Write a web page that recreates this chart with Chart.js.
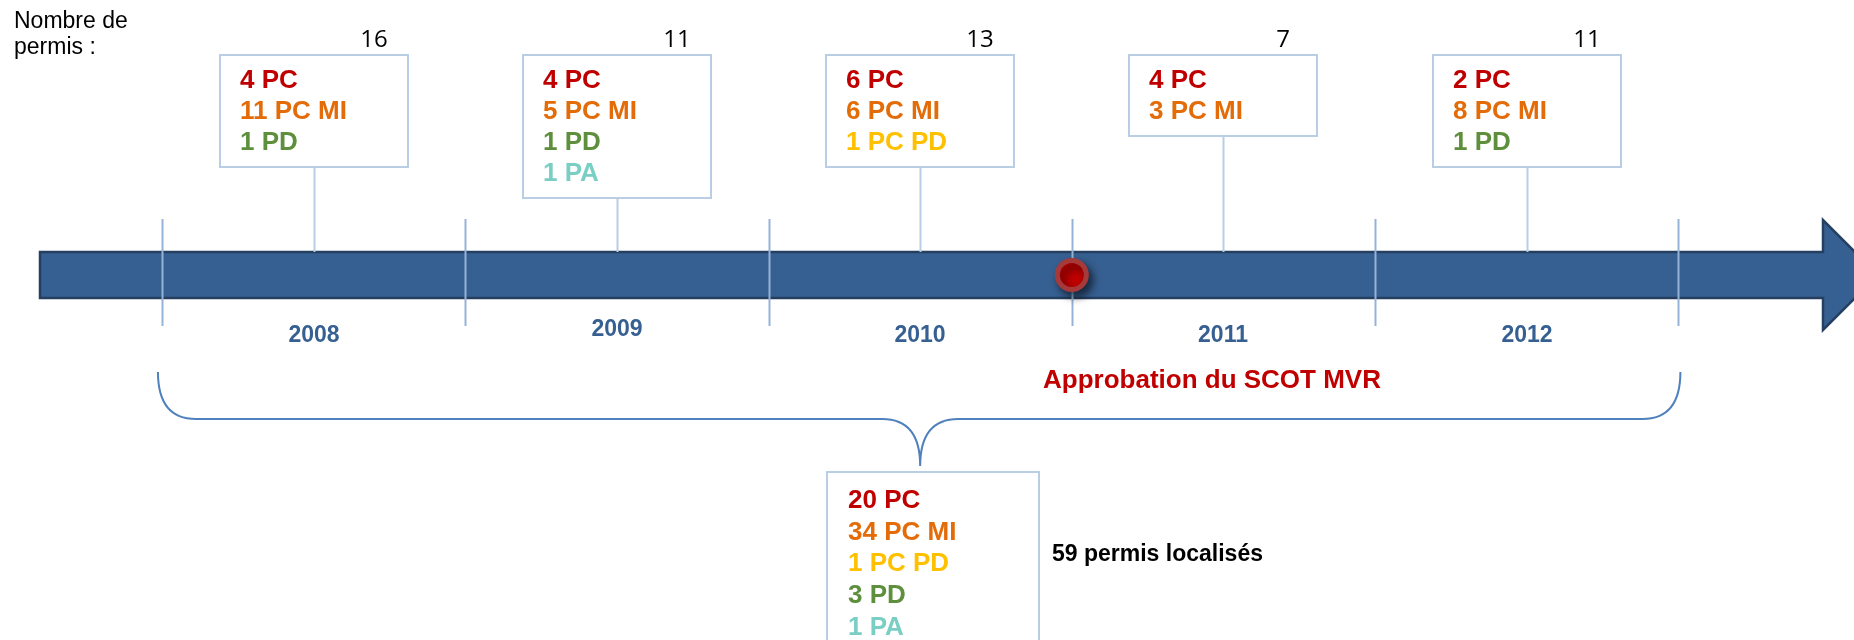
<!DOCTYPE html>
<html>
<head>
<meta charset="utf-8">
<script src="https://cdn.jsdelivr.net/npm/chart.js@4.4.1/dist/chart.umd.min.js"></script>
<style>
  html, body { margin: 0; padding: 0; background: #fff; }
  #timeline { display: block; }
</style>
</head>
<body>
<canvas id="timeline" width="1854" height="640"></canvas>
<script>
// permits per year
const years = [2008, 2009, 2010, 2011, 2012];
const yearTotals = [16, 11, 13, 7, 11];
const permitTypes = ['PC', 'PC MI', 'PC PD', 'PD', 'PA'];
const pcCounts = [4, 4, 6, 4, 2];
const pcMiCounts = [11, 5, 6, 3, 8];
const pcPdCounts = [0, 0, 1, 0, 0];
const pdCounts = [1, 1, 0, 0, 1];
const paCounts = [0, 1, 0, 0, 0];

// totals as printed in the summary box (not recomputed)
const summaryCounts = [20, 34, 1, 3, 1];
const summaryTotal = 59;

const approvalDate = 2011;
const approvalLabel = 'Approbation du SCOT MVR';

const typeColors = ['#C00000', '#E36C09', '#FFC000', '#5E8F3C', '#7ACFC4'];

// layout (pixels)
const AXIS_TOP = 252, AXIS_BOTTOM = 298, AXIS_Y = 275;
const BOX_TOP = 55, BOX_W = 188, LINE_H = 31;
const FONT = '"Liberation Sans", Arial, sans-serif';

function boxLines(i) {
    const perType = [pcCounts, pcMiCounts, pcPdCounts, pdCounts, paCounts];
    const out = [];
    perType.forEach((arr, t) => {
        if (arr[i] > 0) out.push({ text: arr[i] + ' ' + permitTypes[t], color: typeColors[t] });
    });
    return out;
}

const timelinePlugin = {
    id: 'timeline',
    beforeDatasetsDraw(chart) {
        const ctx = chart.ctx;
        const xs = chart.scales.x;
        ctx.save();

        // big arrow
        ctx.beginPath();
        ctx.moveTo(40, AXIS_TOP);
        ctx.lineTo(1823, AXIS_TOP);
        ctx.lineTo(1823, 220);
        ctx.lineTo(1878, AXIS_Y);
        ctx.lineTo(1823, 330);
        ctx.lineTo(1823, AXIS_BOTTOM);
        ctx.lineTo(40, AXIS_BOTTOM);
        ctx.closePath();
        ctx.fillStyle = '#376092';
        ctx.fill();
        ctx.lineWidth = 2.5;
        ctx.strokeStyle = '#243F60';
        ctx.stroke();

        // year dividers
        ctx.strokeStyle = '#95B3D7';
        ctx.lineWidth = 2;
        years.concat([years[years.length - 1] + 1]).forEach(y => {
            const x = Math.round(xs.getPixelForValue(y)) + 0.5;
            ctx.beginPath();
            ctx.moveTo(x, 219);
            ctx.lineTo(x, 326);
            ctx.stroke();
        });

        // boxes, connectors, counts
        years.forEach((y, i) => {
            const cx = Math.round(xs.getPixelForValue(y + 0.5));
            const lines = boxLines(i);
            const h = 19 + LINE_H * lines.length;
            const left = cx - BOX_W / 2;

            ctx.strokeStyle = '#B9CDE5';
            ctx.lineWidth = 2;
            ctx.beginPath();
            ctx.moveTo(cx + 0.5, BOX_TOP + h);
            ctx.lineTo(cx + 0.5, AXIS_TOP);
            ctx.stroke();
            ctx.strokeRect(left, BOX_TOP, BOX_W, h);

            ctx.font = 'bold 26px ' + FONT;
            ctx.textAlign = 'left';
            ctx.textBaseline = 'middle';
            lines.forEach((l, k) => {
                ctx.fillStyle = l.color;
                ctx.fillText(l.text, left + 20, BOX_TOP + 26 + k * LINE_H);
            });

            ctx.font = '24px "Open Sans", sans-serif';
            ctx.fillStyle = '#000';
            ctx.textAlign = 'center';
            ctx.fillText(String(yearTotals[i]), cx + 60, 40);

            ctx.font = 'bold 23px ' + FONT;
            ctx.fillStyle = '#376092';
            ctx.fillText(String(y), cx, i === 1 ? 330 : 336);
        });

        // y-axis caption
        ctx.font = '23px ' + FONT;
        ctx.fillStyle = '#000';
        ctx.textAlign = 'left';
        ctx.fillText('Nombre de', 14, 22);
        ctx.fillText('permis :', 14, 48);

        // approval label
        ctx.font = 'bold 26px ' + FONT;
        ctx.fillStyle = '#C00000';
        ctx.fillText(approvalLabel, Math.round(xs.getPixelForValue(approvalDate)) - 29, 381);

        // brace over the whole period
        const L = xs.getPixelForValue(years[0]) - 4;
        const R = xs.getPixelForValue(years[years.length - 1] + 1) + 2;
        const M = (L + R) / 2 + 1;
        ctx.strokeStyle = '#4F81BD';
        ctx.lineWidth = 2;
        ctx.beginPath();
        ctx.moveTo(L, 372);
        ctx.bezierCurveTo(L, 402, L + 12, 419, L + 38, 419);
        ctx.lineTo(M - 38, 419);
        ctx.bezierCurveTo(M - 12, 419, M, 436, M, 466);
        ctx.bezierCurveTo(M, 436, M + 12, 419, M + 38, 419);
        ctx.lineTo(R - 38, 419);
        ctx.bezierCurveTo(R - 12, 419, R, 402, R, 372);
        ctx.stroke();

        // summary box
        const sLeft = Math.round(M) - 93;
        const sW = 212;
        ctx.strokeStyle = '#B9CDE5';
        ctx.strokeRect(sLeft, 472, sW, 200);
        ctx.font = 'bold 26px ' + FONT;
        ctx.textAlign = 'left';
        summaryCounts.forEach((c, t) => {
            ctx.fillStyle = typeColors[t];
            ctx.fillText(c + ' ' + permitTypes[t], sLeft + 21, 501 + t * 31.6);
        });
        ctx.font = 'bold 23px ' + FONT;
        ctx.fillStyle = '#000';
        ctx.fillText(summaryTotal + ' permis localisés', sLeft + sW + 13, 555);

        ctx.restore();
    },
    beforeDatasetDraw(chart) {
        const ctx = chart.ctx;
        ctx.save();
        ctx.shadowColor = 'rgba(0,0,0,0.55)';
        ctx.shadowBlur = 9;
        ctx.shadowOffsetX = 4;
        ctx.shadowOffsetY = 5;
    },
    afterDatasetDraw(chart) {
        chart.ctx.restore();
    }
};

new Chart(document.getElementById('timeline'), {
    type: 'scatter',
    data: {
        datasets: [{
            label: approvalLabel,
            data: [{ x: approvalDate, y: AXIS_Y }],
            pointRadius: 14.5,
            pointBackgroundColor: '#C00000',
            pointBorderColor: '#A63A3A',
            pointBorderWidth: 5
        }]
    },
    options: {
        responsive: false,
        animation: false,
        devicePixelRatio: 1,
        events: [],
        layout: { padding: 0, autoPadding: false },
        plugins: { legend: { display: false }, tooltip: { enabled: false } },
        scales: {
            x: { type: 'linear', min: 2007.466, max: 2013.579, display: false },
            y: { type: 'linear', min: 0, max: 640, reverse: true, display: false }
        }
    },
    plugins: [timelinePlugin]
});
</script>
</body>
</html>
